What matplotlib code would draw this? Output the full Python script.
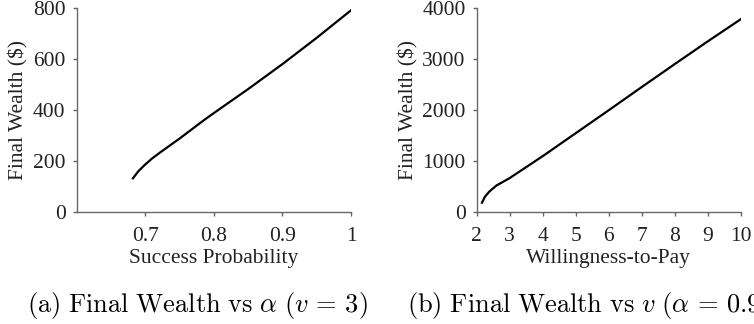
import matplotlib
matplotlib.use('Agg')
import matplotlib.pyplot as plt

plt.rcParams['font.family'] = 'serif'
plt.rcParams['font.serif'] = ['Liberation Serif', 'DejaVu Serif']
plt.rcParams['mathtext.fontset'] = 'cm'

# (a) final wealth vs success probability
alpha = [0.682, 0.690, 0.699, 0.710, 0.723, 0.750, 0.786, 0.800, 0.850, 0.900, 0.950, 1.000]
wealth_a = [132, 160, 184, 210, 236, 288, 361, 388, 482, 580, 683, 791]

# (b) final wealth vs willingness-to-pay
wtp = [2.16, 2.25, 2.38, 2.60, 3.0, 4.0, 5.0, 6.0, 7.0, 8.0, 9.0, 10.0]
wealth_b = [182, 300, 398, 520, 665, 1095, 1545, 1995, 2450, 2900, 3345, 3780]

spine_col = '#666666'
txt_col = '#222222'
fs = 15.5

fig = plt.figure(figsize=(7.54, 3.24), dpi=100)
ax1 = fig.add_axes([0.1017, 0.3457, 0.3638, 0.6296])
ax2 = fig.add_axes([0.6322, 0.3457, 0.3502, 0.6296])

def style(ax):
    for s in ['top', 'right']:
        ax.spines[s].set_visible(False)
    for s in ['left', 'bottom']:
        ax.spines[s].set_color(spine_col)
        ax.spines[s].set_linewidth(1.0)
    ax.tick_params(direction='out', length=3, width=1, color=spine_col,
                   labelsize=fs, labelcolor=txt_col)
    ax.tick_params(axis='x', pad=8)
    ax.tick_params(axis='y', pad=5)

ax1.plot(alpha, wealth_a, color='black', lw=1.6)
ax1.set_xlim(0.6, 1.0)
ax1.set_ylim(0, 800)
ax1.set_xticks([0.7, 0.8, 0.9, 1.0])
ax1.set_xticklabels(['0.7', '0.8', '0.9', '1'])
ax1.set_yticks([0, 200, 400, 600, 800])
ax1.set_xlabel('Success Probability', fontsize=fs, color=txt_col, labelpad=2)
ax1.set_ylabel('Final Wealth ($)', fontsize=fs, color=txt_col, labelpad=3)
style(ax1)

ax2.plot(wtp, wealth_b, color='black', lw=1.6)
ax2.set_xlim(2, 10)
ax2.set_ylim(0, 4000)
ax2.set_xticks(range(2, 11))
ax2.set_yticks([0, 1000, 2000, 3000, 4000])
ax2.set_xlabel('Willingness-to-Pay', fontsize=fs, color=txt_col, labelpad=2)
ax2.set_ylabel('Final Wealth ($)', fontsize=fs, color=txt_col, labelpad=3)
style(ax2)

fig.text(0.036, 0.037, r'$\mathrm{(a)\ Final\ Wealth\ vs}\ \alpha\ (v\,=\,3)$', fontsize=19)
fig.text(0.540, 0.037, r'$\mathrm{(b)\ Final\ Wealth\ vs}\ v\ (\alpha\,=\,0.9)$', fontsize=19)

fig.savefig('out.png', dpi=100)
